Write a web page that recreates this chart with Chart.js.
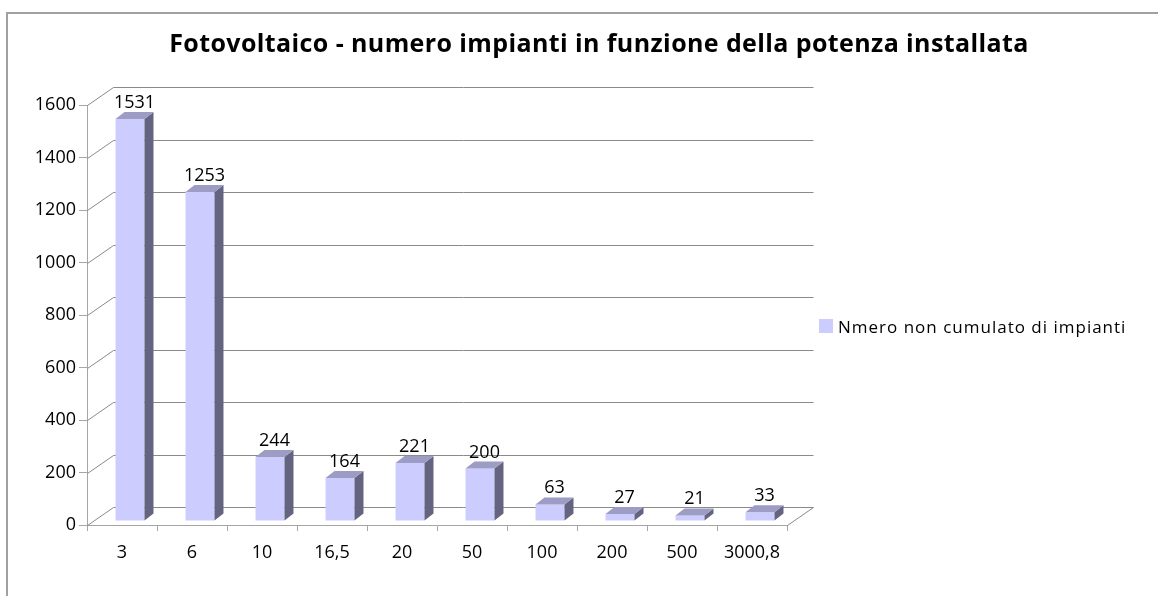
<!DOCTYPE html>
<html>
<head>
<meta charset="utf-8">
<script src="https://cdn.jsdelivr.net/npm/chart.js@4/dist/chart.umd.min.js"></script>
<style>
  html, body { margin: 0; padding: 0; background: #ffffff; }
  #wrap { position: relative; width: 1158px; height: 596px; }
  canvas { display: block; }
</style>
</head>
<body>
<div id="wrap"><canvas id="c" width="1158" height="596"></canvas></div>
<script>
// ---- data ----
const chartTitle = 'Fotovoltaico - numero impianti in funzione della potenza installata';
const seriesLabel = 'Nmero non cumulato di impianti';
const categories = ['3', '6', '10', '16,5', '20', '50', '100', '200', '500', '3000,8'];
const impianti = [1531, 1253, 244, 164, 221, 200, 63, 27, 21, 33];
const yMin = 0;
const yMax = 1600;
const yStep = 200;

// ---- style ----
const FONT = '"Open Sans", "Liberation Sans", sans-serif';
const WALL = { dx: 26, dy: -18 };   // depth of back wall
const BAR_SHIFT = { dx: 8, dy: -4 }; // bar position inside depth
const BAR_DEPTH = { dx: 9, dy: -7 };
const COL_FRONT = '#ccccff';
const COL_TOP = '#9c9cc4';
const COL_SIDE = '#646480';
const GRID = '#8a8a8a';
const AXIS = '#a6a6a6';

const threeD = {
  id: 'threeD',
  beforeDraw(chart) {
    const ctx = chart.ctx;
    ctx.save();
    ctx.fillStyle = '#ffffff';
    ctx.fillRect(0, 0, chart.width, chart.height);
    // outer frame
    ctx.strokeStyle = '#a0a0a0';
    ctx.lineWidth = 2;
    ctx.strokeRect(7, 13, chart.width + 20, chart.height + 20);
    // title
    ctx.fillStyle = '#000';
    ctx.font = 'bold 25px ' + FONT;
    ctx.textAlign = 'center';
    ctx.textBaseline = 'alphabetic';
    try { ctx.letterSpacing = '0.4px'; } catch (e) {}
    ctx.fillText(chartTitle, 599, 52);
    // legend
    ctx.fillStyle = COL_FRONT;
    ctx.fillRect(819, 319, 14, 14);
    ctx.fillStyle = '#000';
    ctx.font = '17px ' + FONT;
    ctx.textAlign = 'left';
    try { ctx.letterSpacing = '1px'; } catch (e) {}
    ctx.fillText(chart.data.datasets[0].label, 838, 333);
    try { ctx.letterSpacing = '0px'; } catch (e) {}
    ctx.restore();
  },
  beforeDatasetsDraw(chart) {
    const ctx = chart.ctx;
    const ys = chart.scales.y;
    const area = chart.chartArea;
    ctx.save();
    ctx.strokeStyle = GRID;
    ctx.lineWidth = 1;
    ctx.beginPath();
    ys.ticks.forEach(t => {
      const py = Math.round(ys.getPixelForValue(t.value)) + 0.5;
      const x0 = area.left + 0.5;
      ctx.moveTo(x0, py);
      ctx.lineTo(x0 + WALL.dx, py + WALL.dy);
      ctx.lineTo(area.right + WALL.dx + 0.5, py + WALL.dy);
    });
    const pb = Math.round(ys.getPixelForValue(yMin)) + 0.5;
    ctx.moveTo(area.right + 0.5, pb);
    ctx.lineTo(area.right + WALL.dx + 0.5, pb + WALL.dy);
    ctx.stroke();
    ctx.restore();
    // shift the bars inside the depth
    ctx.save();
    ctx.translate(BAR_SHIFT.dx, BAR_SHIFT.dy);
  },
  afterDatasetsDraw(chart) {
    const ctx = chart.ctx;
    ctx.restore();
    const meta = chart.getDatasetMeta(0);
    const values = chart.data.datasets[0].data;
    ctx.save();
    meta.data.forEach((bar, i) => {
      const p = bar.getProps(['x', 'y', 'base', 'width'], true);
      const left = p.x - p.width / 2 + BAR_SHIFT.dx;
      const right = p.x + p.width / 2 + BAR_SHIFT.dx;
      const top = p.y + BAR_SHIFT.dy;
      const bottom = p.base + BAR_SHIFT.dy;
      // side face
      ctx.fillStyle = COL_SIDE;
      ctx.beginPath();
      ctx.moveTo(right, top);
      ctx.lineTo(right + BAR_DEPTH.dx, top + BAR_DEPTH.dy);
      ctx.lineTo(right + BAR_DEPTH.dx, bottom + BAR_DEPTH.dy);
      ctx.lineTo(right, bottom);
      ctx.closePath();
      ctx.fill();
      // top face
      ctx.fillStyle = COL_TOP;
      ctx.beginPath();
      ctx.moveTo(left, top);
      ctx.lineTo(left + BAR_DEPTH.dx, top + BAR_DEPTH.dy);
      ctx.lineTo(right + BAR_DEPTH.dx, top + BAR_DEPTH.dy);
      ctx.lineTo(right, top);
      ctx.closePath();
      ctx.fill();
      // value label
      ctx.fillStyle = '#000';
      ctx.font = '18px ' + FONT;
      ctx.textAlign = 'center';
      ctx.textBaseline = 'alphabetic';
      ctx.fillText(String(values[i]), (left + right) / 2 + BAR_DEPTH.dx / 2, top + BAR_DEPTH.dy - 4);
    });
    ctx.restore();
  }
};

new Chart(document.getElementById('c'), {
  type: 'bar',
  data: {
    labels: categories,
    datasets: [{
      label: seriesLabel,
      data: impianti,
      backgroundColor: COL_FRONT,
      borderWidth: 0,
      barPercentage: 0.414,
      categoryPercentage: 1.0,
      clip: false
    }]
  },
  options: {
    responsive: false,
    animation: false,
    devicePixelRatio: 1,
    layout: { padding: { left: 0, right: 371, top: 105, bottom: 0 } },
    plugins: {
      legend: { display: false },
      title: { display: false },
      tooltip: { enabled: false }
    },
    scales: {
      x: {
        offset: true,
        grid: { display: true, drawOnChartArea: false, drawTicks: true, tickLength: 6, color: AXIS, offset: true },
        border: { display: true, color: AXIS },
        ticks: { color: '#000', font: { family: FONT, size: 18 }, padding: 11, autoSkip: false, maxRotation: 0 },
        afterFit(s) { s.height = 71; }
      },
      y: {
        min: yMin,
        max: yMax,
        grid: { display: true, drawOnChartArea: false, drawTicks: true, tickLength: 8, color: AXIS },
        border: { display: true, color: AXIS },
        ticks: { stepSize: yStep, color: '#000', font: { family: FONT, size: 18 }, padding: 3,
                 callback: v => String(v) },
        afterFit(s) { s.width = 87; }
      }
    }
  },
  plugins: [threeD]
});
</script>
</body>
</html>
